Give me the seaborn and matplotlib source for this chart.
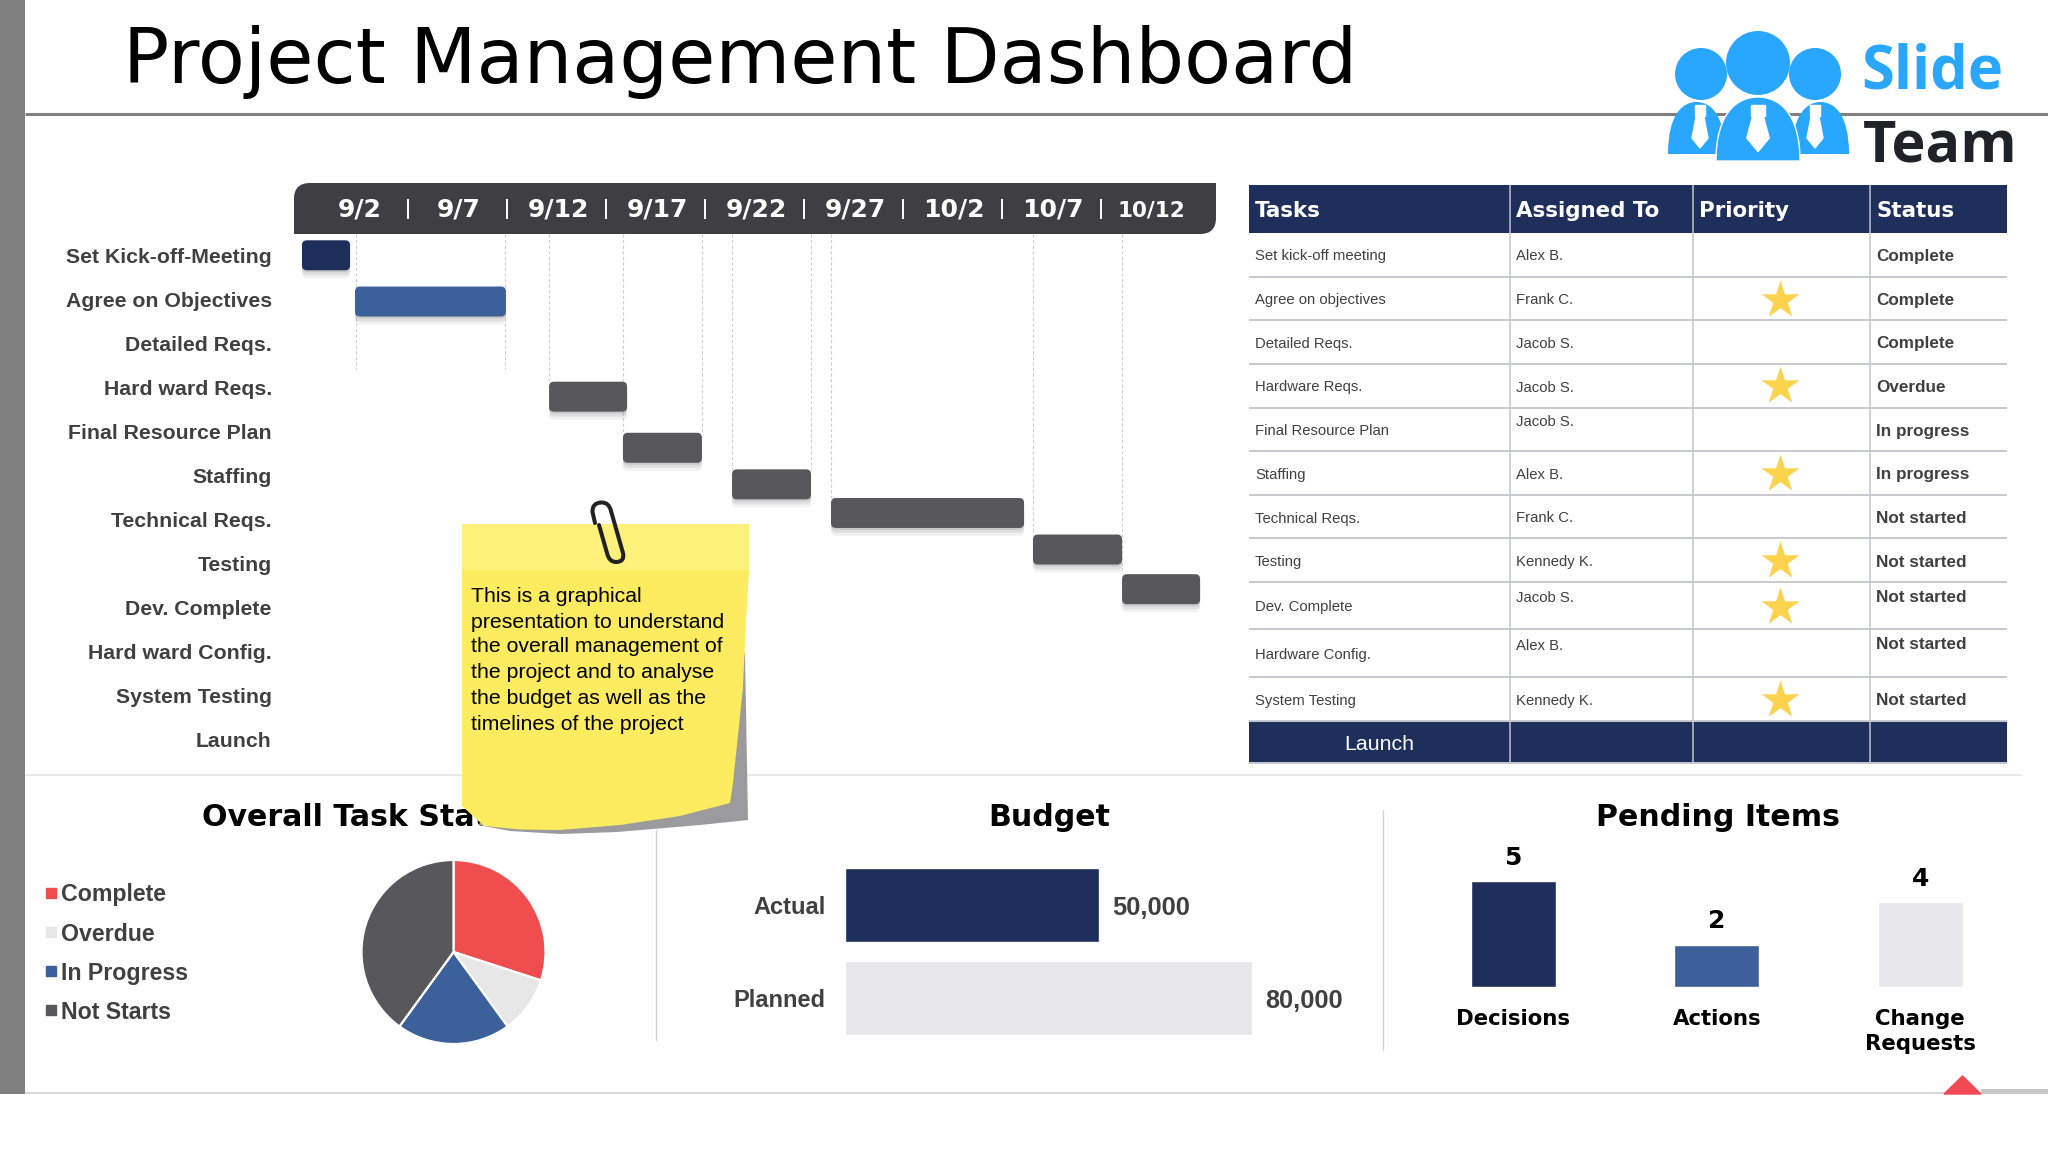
import numpy as np
import pandas as pd
import seaborn as sns
import matplotlib.pyplot as plt
from matplotlib.lines import Line2D
from matplotlib.patches import Circle, FancyBboxPatch, PathPatch, Polygon, Rectangle
from matplotlib.path import Path
from matplotlib.transforms import ScaledTranslation

# Gantt chart data, days are counted from 9/2
gantt_tasks = ['Set Kick-off-Meeting', 'Agree on Objectives', 'Detailed Reqs.', 'Hard ward Reqs.',
               'Final Resource Plan', 'Staffing', 'Technical Reqs.', 'Testing', 'Dev. Complete',
               'Hard ward Config.', 'System Testing', 'Launch']
date_labels = ['9/2', '9/7', '9/12', '9/17', '9/22', '9/27', '10/2', '10/7', '10/12']
date_days = [0, 5, 10, 15, 20, 25, 30, 35, 40]
bar_start = [-2.83, -0.15, 9.65, 13.38, 18.89, 23.89, 34.09, 38.59]
bar_end = [-0.4, 7.47, 13.59, 17.37, 22.88, 33.64, 38.59, 42.53]
bar_row = [-0.03, 1.02, 3.18, 4.34, 5.17, 5.82, 6.65, 7.55]
bar_color = ['#1F2F5B', '#3C6099', '#58585A', '#58585A', '#58585A', '#58585A', '#58585A', '#58585A']
guide_day = [-0.1, 7.42, 9.65, 13.38, 17.37, 18.89, 22.88, 23.89, 34.09, 38.59]
guide_end = [2.55, 2.55, 2.83, 4.0, 4.0, 4.84, 4.84, 5.48, 6.32, 7.2]

# Table data
table_header = ['Tasks', 'Assigned To', 'Priority', 'Status']
table_tasks = ['Set kick-off meeting', 'Agree on objectives', 'Detailed Reqs.', 'Hardware Reqs.',
               'Final Resource Plan', 'Staffing', 'Technical Reqs.', 'Testing', 'Dev. Complete',
               'Hardware Config.', 'System Testing']
table_assigned = ['Alex B.', 'Frank C.', 'Jacob S.', 'Jacob S.', 'Jacob S.', 'Alex B.', 'Frank C.',
                  'Kennedy K.', 'Jacob S.', 'Alex B.', 'Kennedy K.']
table_priority = [0, 1, 0, 1, 0, 1, 0, 1, 1, 0, 1]
table_status = ['Complete', 'Complete', 'Complete', 'Overdue', 'In progress', 'In progress',
                'Not started', 'Not started', 'Not started', 'Not started', 'Not started']

# Bottom panels
pie_labels = ['Complete', 'Overdue', 'In Progress', 'Not Starts']
pie_values = [30, 10, 20, 40]
pie_colors = ['#F04D4E', '#E7E7E8', '#3C6099', '#58585A']
budget_labels = ['Actual', 'Planned']
budget_values = [50000, 80000]
pending_labels = ['Decisions', 'Actions', 'Change\nRequests']
pending_values = [5, 2, 4]

note_lines = ['This is a graphical', 'presentation to understand', 'the overall management of',
              'the project and to analyse', 'the budget as well as the', 'timelines of the project']

W, H = 2048, 1152
NAVY = '#1F2F5B'
BLUE = '#3C6099'
LIGHT = '#E7E6E8'
DARK = '#404041'
HEAD = 'DejaVu Sans'

sns.set_theme(style='white')
plt.rcParams['font.family'] = ['Liberation Sans', 'DejaVu Sans']
fig = plt.figure(figsize=(W / 100, H / 100), dpi=100, facecolor='white')


def px_axes(left, top, right, bottom, zorder=1):
    ax = fig.add_axes([left / W, 1 - bottom / H, (right - left) / W, (bottom - top) / H], zorder=zorder)
    ax.patch.set_alpha(0)
    return ax


def nudge(label, dx, dy):
    # move a tick label by some pixels (dy is up)
    label.set_transform(label.get_transform() + ScaledTranslation(dx / 100, dy / 100, fig.dpi_scale_trans))


def dome(x0, x1, ytop, ybot):
    w = x1 - x0
    h = ybot - ytop
    verts = [(x0, ybot), (x0, ytop + 0.25 * h), (x0 + 0.25 * w, ytop), (x0 + 0.5 * w, ytop),
             (x0 + 0.75 * w, ytop), (x1, ytop + 0.25 * h), (x1, ybot), (x0, ybot)]
    codes = [Path.MOVETO, Path.CURVE4, Path.CURVE4, Path.CURVE4, Path.CURVE4, Path.CURVE4, Path.CURVE4, Path.CLOSEPOLY]
    return Path(verts, codes)


# page furniture in pixel coordinates
bg = px_axes(0, 0, W, H, zorder=0)
bg.set_xlim(0, W)
bg.set_ylim(H, 0)
bg.axis('off')
bg.add_patch(Rectangle((0, 0), 25, 1094, color='#808080', lw=0))
bg.plot([25, W], [114, 114], color='#808080', lw=2.2, solid_capstyle='butt')
bg.plot([25, W], [1093, 1093], color='#D9D9D9', lw=1.5, solid_capstyle='butt')
bg.plot([25, 2022], [775, 775], color='#E8E8E8', lw=1.5, solid_capstyle='butt')
bg.plot([656, 656], [830, 1040], color='#D4D4D4', lw=1)
bg.plot([1383, 1383], [810, 1050], color='#D4D4D4', lw=1)
bg.text(123, 62, 'Project Management Dashboard', family=HEAD, fontsize=55.3, color='black', va='center')

# logo
LOGO = '#29A7FF'
bg.add_patch(PathPatch(dome(1668, 1725, 102, 154), fc=LOGO, ec='none', zorder=3))
bg.add_patch(PathPatch(dome(1792, 1849, 102, 154), fc=LOGO, ec='none', zorder=3))
bg.add_patch(PathPatch(dome(1716, 1800, 97, 161), fc=LOGO, ec='white', lw=1, zorder=4))
for cx, cy, r in [(1701, 74, 26), (1815, 74, 26), (1758, 63, 32)]:
    bg.add_patch(Circle((cx, cy), r, fc=LOGO, ec='none', zorder=4))
for cx, k in [(1700, 1.0), (1815, 1.0), (1758, 1.4)]:
    bg.add_patch(Polygon([(cx - 5 * k, 105), (cx + 5 * k, 105), (cx + 5 * k, 116), (cx - 5 * k, 116)], color='white', zorder=5))
    bg.add_patch(Polygon([(cx - 4 * k, 117), (cx + 4 * k, 117), (cx + 8 * k, 138), (cx, 148 + 3 * (k - 1) * 3), (cx - 8 * k, 138)],
                         color='white', zorder=5))
bg.text(1861, 73, 'Slide', family='Open Sans', weight='bold', fontsize=43, color=LOGO, va='center', zorder=5)
bg.text(1863, 146, 'Team', family='Open Sans', weight='bold', fontsize=41.5, color='#1F2328', va='center', zorder=5)

# header band of the gantt chart, rounded on two corners
r = 16
band = Path([(294 + r, 183), (1216, 183), (1216, 234 - r), (1216, 234), (1216 - r, 234), (294, 234), (294, 183 + r),
             (294, 183), (294 + r, 183), (294 + r, 183)],
            [Path.MOVETO, Path.LINETO, Path.LINETO, Path.CURVE3, Path.CURVE3, Path.LINETO, Path.LINETO,
             Path.CURVE3, Path.CURVE3, Path.CLOSEPOLY])
bg.add_patch(PathPatch(band, fc='#3F3F41', ec='none'))

# gantt chart
PX_DAY = 19.8
PX_ROW = 44.05
gantt = px_axes(294, 183, 1216, 770, zorder=1)
gantt.set_xlim((294 - 358) / PX_DAY, (1216 - 358) / PX_DAY)
gantt.set_ylim((770 - 256.6) / PX_ROW, (183 - 256.6) / PX_ROW)
sns.despine(ax=gantt, left=True, bottom=True)
gantt.xaxis.tick_top()
gantt.set_xticks(date_days, date_labels, family=HEAD, weight='bold', fontsize=18, color='white')
gantt.get_xticklabels()[-1].set_fontsize(15.5)
gantt.set_yticks(range(len(gantt_tasks)), gantt_tasks, weight='bold', fontsize=15.3, color=DARK)
gantt.tick_params(axis='x', length=0, pad=-28)
gantt.tick_params(axis='y', length=0, pad=16)
for lab in gantt.get_xticklabels():
    nudge(lab, 2, 0)
nudge(gantt.get_xticklabels()[-1], -1, 1.5)
for lab in gantt.get_yticklabels():
    nudge(lab, 0, 1.3)
gantt.vlines([d + 2.55 for d in date_days[:-1]], -1.31, -0.85, color='white', lw=1.4)
gantt.vlines(guide_day, -0.51, guide_end, color='#CFCFCF', lw=0.8, linestyles=(0, (3, 2)))
aspect = PX_DAY / PX_ROW
bar_h = 30 / PX_ROW
for start, end, row, col in zip(bar_start, bar_end, bar_row, bar_color):
    for off, alpha in [(8, 0.10), (5, 0.16), (2, 0.22)]:
        gantt.add_patch(FancyBboxPatch((start, row - bar_h / 2 + off / PX_ROW), end - start, bar_h,
                                       boxstyle='round,pad=0,rounding_size=0.25', mutation_aspect=aspect,
                                       fc='#808080', ec='none', alpha=alpha, zorder=2))
    gantt.add_patch(FancyBboxPatch((start, row - bar_h / 2), end - start, bar_h,
                                   boxstyle='round,pad=0,rounding_size=0.25', mutation_aspect=aspect,
                                   fc=col, ec='none', zorder=3))

# table
col_x = [1249, 1510, 1693, 1870, 2007]
row_y = [184.6, 232.5, 276.5, 320, 363.5, 407.5, 451, 494.5, 538, 582, 629, 676.5, 720.5, 763]
task_y = [256.4, 300.1, 343.8, 387.5, 431.2, 474.8, 518.5, 562.2, 607, 654.5, 700.9]
assigned_y = [256.4, 300.1, 343.8, 387.5, 422, 474.8, 518.5, 562.2, 598.2, 645.7, 700.9]
status_y = [256.4, 300.1, 343.8, 387.5, 431.2, 474.8, 518.5, 562.2, 597, 644.6, 700.9]
star_y = [299.6, 385.5, 473.8, 560.7, 606.8, 699.9]
bg.add_patch(Rectangle((col_x[0], row_y[0]), col_x[-1] - col_x[0], row_y[1] - row_y[0], color=NAVY, lw=0))
bg.add_patch(Rectangle((col_x[0], row_y[-2]), col_x[-1] - col_x[0], row_y[-1] - row_y[-2], color=NAVY, lw=0))
bg.hlines(row_y[2:-1], col_x[0], col_x[-1], color='#C9CAD0', lw=1.4)
bg.hlines(row_y[-1], col_x[0], col_x[-1], color='#C9CAD0', lw=1.4)
bg.vlines(col_x[1:-1], row_y[0], row_y[-1], color='#C4C5CE', lw=1.1)
for x, label in zip(col_x, table_header):
    bg.text(x + 6, 211, label, family=HEAD, weight='bold', fontsize=15.4, color='white', va='center')
for i in range(len(table_tasks)):
    bg.text(col_x[0] + 6, task_y[i], table_tasks[i], fontsize=10.7, color=DARK, va='center')
    bg.text(col_x[1] + 6, assigned_y[i], table_assigned[i], fontsize=10.7, color=DARK, va='center')
    bg.text(col_x[3] + 6.5, status_y[i], table_status[i], weight='bold', fontsize=12.3, color=DARK, va='center')
star_rows = [y for y, p in zip(star_y, [v for v in table_priority if v])]
bg.scatter([1780] * len(star_rows), star_rows, marker='*', s=830, color='#FDD34E', linewidths=0, zorder=3)
bg.text(1379, 745, 'Launch', fontsize=15.4, color='white', ha='center', va='center')

# bottom titles
bg.text(202, 818, 'Overall Task Status', family=HEAD, weight='bold', fontsize=21.6, color='black', va='center')
bg.text(1049, 818, 'Budget', family=HEAD, weight='bold', fontsize=21.6, color='black', ha='center', va='center')
bg.text(1718, 818, 'Pending Items', family=HEAD, weight='bold', fontsize=21.6, color='black', ha='center', va='center')

# pie
pie_ax = px_axes(353.5, 852, 553.5, 1052)
pie_ax.pie(pie_values, colors=pie_colors, startangle=90, counterclock=False, radius=0.92,
           wedgeprops={'edgecolor': 'white', 'linewidth': 1.6})
pie_ax.set_xlim(-1, 1)
pie_ax.set_ylim(-1, 1)
handles = [Line2D([], [], marker='s', ls='none', color=c, markersize=7.5) for c in pie_colors]
fig.legend(handles, pie_labels, loc='upper left', bbox_to_anchor=(44 / W, 1 - 883.5 / H), frameon=False,
           prop={'weight': 'bold', 'size': 16.7}, labelcolor=DARK, labelspacing=0.69, handlelength=0.6,
           handletextpad=0.14, borderpad=0, borderaxespad=0)

# budget bars
budget = px_axes(845, 858.5, 1252, 1044.5)
sns.barplot(x=budget_values, y=budget_labels, hue=budget_labels, palette=[NAVY, LIGHT], saturation=1,
            width=0.79, legend=False, ax=budget)
budget.set_xlim(0, 80000)
budget.set_ylim(1.5, -0.5)
sns.despine(ax=budget, left=True, bottom=True)
budget.set_xticks([])
budget.tick_params(axis='y', length=0, pad=14)
for lab in budget.get_yticklabels():
    lab.set_fontweight('bold')
    lab.set_fontsize(17)
    lab.set_color(DARK)
for cont in budget.containers:
    for t in budget.bar_label(cont, fmt='{:,.0f}', padding=9.5, fontsize=18.3, weight='bold', color=DARK):
        t.xyann = (9.5, -2)

# pending items bars
pending = px_axes(1411.5, 881, 2022, 987)
sns.barplot(x=pending_labels, y=pending_values, hue=pending_labels, palette=[NAVY, BLUE, LIGHT], saturation=1,
            width=0.42, legend=False, ax=pending)
pending.set_ylim(0, 5)
pending.set_xlim(-0.5, 2.5)
sns.despine(ax=pending, left=True, bottom=True)
pending.set_yticks([])
pending.tick_params(axis='x', length=0, pad=16)
for lab in pending.get_xticklabels():
    lab.set_family(HEAD)
    lab.set_fontweight('bold')
    lab.set_fontsize(15.3)
    lab.set_color('black')
    lab.set_linespacing(1.3)
for cont in pending.containers:
    pending.bar_label(cont, padding=8, family=HEAD, fontsize=18, weight='bold', color='black')

# red corner mark
bg.add_patch(Polygon([(1944, 1094), (1981, 1094), (1962.5, 1076)], color='#EF4A55', zorder=3))
bg.add_patch(Rectangle((1981, 1089), 67, 5, color='#C8C8C8', zorder=3, lw=0))

# sticky note sits above everything
note = px_axes(0, 0, W, H, zorder=5)
note.set_xlim(0, W)
note.set_ylim(H, 0)
note.axis('off')
note.add_patch(Polygon([(745, 653), (748, 820), (700, 825), (617, 832), (560, 834), (510, 831), (478, 825), (600, 700)],
                       fc='#9B9B9D', ec='none'))
note.add_patch(Polygon([(462, 524), (749, 524), (749, 570), (746, 620), (743, 687), (733, 783), (730, 803), (680, 816),
                        (620, 825), (560, 830), (520, 829.5), (484, 826), (462, 806)], fc='#FDEC5F', ec='none'))
note.add_patch(Rectangle((462, 524), 287, 46, color='#FDF17B', lw=0))
for y, line in zip([596, 622, 647, 673, 699, 724], note_lines):
    note.text(471, y, line, fontsize=15.3, color='black', va='center')
clip = Path([(595, 523), (592.5, 512), (592, 503), (601, 502.5), (609, 502), (611, 511), (623, 553), (625, 562), (616, 562),
             (609, 562), (607, 553), (599, 525)],
            [Path.MOVETO, Path.LINETO, Path.CURVE3, Path.CURVE3, Path.CURVE3, Path.CURVE3, Path.LINETO, Path.CURVE3, Path.CURVE3,
             Path.CURVE3, Path.CURVE3, Path.LINETO])
note.add_patch(PathPatch(clip, fc='none', ec='#222222', lw=2.9, capstyle='round', joinstyle='round', zorder=6))

fig.savefig('out.png', dpi=100, facecolor='white')
plt.close(fig)
